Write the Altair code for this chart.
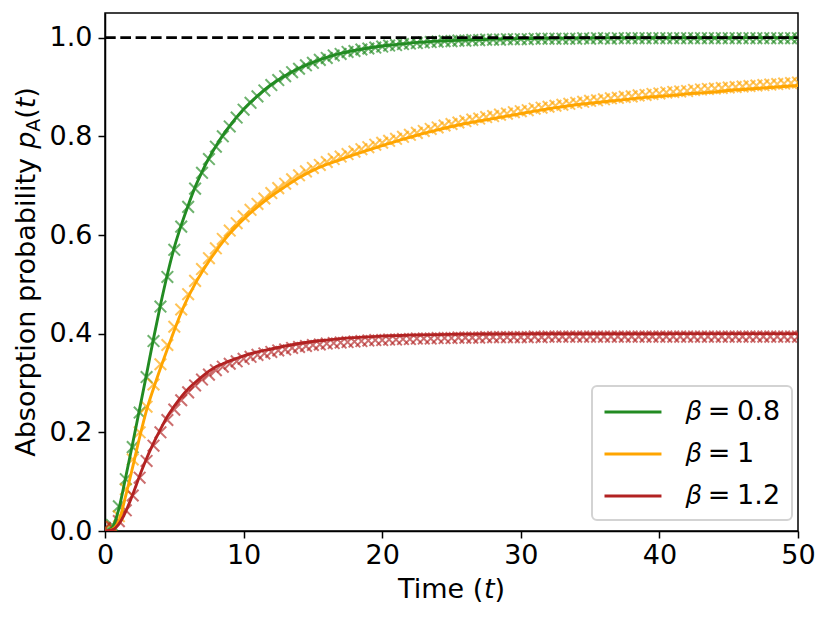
import altair as alt
import pandas as pd

# ---------------- data ----------------
T_LINE = [i / 2 for i in range(21)] + list(range(11, 51))

G_LINE = [0.0, 0.006, 0.045, 0.11, 0.178, 0.248, 0.318, 0.39, 0.458, 0.52, 0.575,
          0.62, 0.66, 0.697, 0.728, 0.756, 0.78, 0.802, 0.821, 0.839, 0.855,
          0.882, 0.905, 0.923, 0.938, 0.950, 0.960, 0.968, 0.974, 0.979, 0.983,
          0.986, 0.989, 0.991, 0.993, 0.994, 0.995, 0.996, 0.997, 0.9975, 0.998,
          0.9984, 0.9987, 0.999, 0.9992, 0.9993, 0.9995, 0.9996, 0.9997, 0.9997, 0.9998,
          0.9998, 0.9999, 0.9999, 0.9999, 0.9999, 1.0, 1.0, 1.0, 1.0, 1.0]

O_LINE = [0.0, 0.003, 0.02, 0.072, 0.13, 0.19, 0.245, 0.289, 0.33, 0.369, 0.407,
          0.443, 0.474, 0.501, 0.525, 0.547, 0.567, 0.586, 0.603, 0.618, 0.632,
          0.657, 0.679, 0.698, 0.716, 0.731, 0.743, 0.753, 0.763, 0.772, 0.781,
          0.790, 0.798, 0.806, 0.813, 0.820, 0.826, 0.831, 0.836, 0.841, 0.846,
          0.851, 0.856, 0.860, 0.864, 0.867, 0.870, 0.873, 0.876, 0.879, 0.881,
          0.883, 0.886, 0.888, 0.890, 0.893, 0.895, 0.897, 0.899, 0.901, 0.903]

R_LINE = [0.0, 0.002, 0.014, 0.04, 0.074, 0.112, 0.147, 0.178, 0.206, 0.232, 0.253,
          0.272, 0.288, 0.301, 0.313, 0.324, 0.333, 0.339, 0.345, 0.350, 0.355,
          0.363, 0.369, 0.375, 0.380, 0.384, 0.387, 0.390, 0.392, 0.3935, 0.395,
          0.396, 0.397, 0.3975, 0.398, 0.3985, 0.399, 0.3992, 0.3994, 0.3995, 0.3996,
          0.3997, 0.3997, 0.3998, 0.3998, 0.3998, 0.3999, 0.3999, 0.3999, 0.3999, 0.3999,
          0.4, 0.4, 0.4, 0.4, 0.4, 0.4, 0.4, 0.4, 0.4, 0.4]

T_MARK = [i / 2 for i in range(101)]

G_MARK = [0.004, 0.012, 0.05, 0.105, 0.17, 0.24, 0.312, 0.385, 0.455, 0.515,
          0.57, 0.617, 0.657, 0.694, 0.726, 0.754, 0.779, 0.8, 0.82, 0.838,
          0.854, 0.868, 0.881, 0.893, 0.904, 0.914, 0.922, 0.93, 0.937, 0.944,
          0.949, 0.955, 0.959, 0.964, 0.967, 0.971, 0.973, 0.976, 0.978, 0.98,
          0.982, 0.984, 0.985, 0.987, 0.988, 0.989, 0.99, 0.991, 0.992, 0.993,
          0.993, 0.994, 0.994, 0.995, 0.995, 0.996, 0.996, 0.996, 0.997, 0.997,
          0.997, 0.997, 0.998, 0.998, 0.998, 0.998, 0.998, 0.998, 0.998, 0.999,
          0.998, 0.999, 0.999, 0.998, 0.999, 0.999, 0.999, 0.999, 0.999, 0.999,
          0.999, 0.999, 0.999, 0.999, 0.999, 0.999, 0.999, 0.999, 0.999, 0.999,
          0.999, 0.999, 0.999, 0.999, 0.999, 0.999, 0.999, 0.999, 0.999, 0.999,
          0.999]

O_MARK = [0.004, 0.008, 0.03, 0.085, 0.145, 0.2, 0.252, 0.297, 0.338, 0.377,
          0.414, 0.449, 0.48, 0.507, 0.531, 0.553, 0.573, 0.592, 0.609, 0.624,
          0.638, 0.651, 0.663, 0.674, 0.685, 0.695, 0.704, 0.713, 0.721, 0.729,
          0.736, 0.742, 0.748, 0.754, 0.759, 0.764, 0.769, 0.774, 0.778, 0.783,
          0.787, 0.791, 0.795, 0.799, 0.803, 0.807, 0.811, 0.815, 0.818, 0.822,
          0.825, 0.828, 0.831, 0.834, 0.836, 0.839, 0.841, 0.844, 0.846, 0.849,
          0.851, 0.853, 0.856, 0.858, 0.86, 0.862, 0.864, 0.866, 0.868, 0.87,
          0.872, 0.873, 0.875, 0.877, 0.878, 0.88, 0.881, 0.883, 0.884, 0.886,
          0.887, 0.889, 0.89, 0.891, 0.892, 0.894, 0.895, 0.896, 0.897, 0.898,
          0.899, 0.9, 0.901, 0.902, 0.903, 0.904, 0.905, 0.906, 0.907, 0.908,
          0.909]

R_MARK = [0.006, 0.008, 0.02, 0.042, 0.072, 0.108, 0.142, 0.173, 0.2, 0.225,
          0.246, 0.265, 0.281, 0.295, 0.307, 0.317, 0.326, 0.333, 0.339, 0.344,
          0.349, 0.353, 0.357, 0.36, 0.363, 0.366, 0.368, 0.371, 0.373, 0.375,
          0.377, 0.378, 0.38, 0.381, 0.382, 0.383, 0.384, 0.385, 0.386, 0.387,
          0.387, 0.388, 0.388, 0.389, 0.389, 0.39, 0.39, 0.39, 0.391, 0.391,
          0.391, 0.392, 0.392, 0.392, 0.392, 0.393, 0.393, 0.393, 0.393, 0.393,
          0.393, 0.393, 0.394, 0.393, 0.394, 0.394, 0.394, 0.394, 0.394, 0.394,
          0.394, 0.394, 0.394, 0.394, 0.394, 0.394, 0.394, 0.394, 0.394, 0.394,
          0.394, 0.394, 0.394, 0.394, 0.394, 0.394, 0.394, 0.394, 0.394, 0.394,
          0.394, 0.394, 0.394, 0.394, 0.394, 0.394, 0.394, 0.394, 0.394, 0.394,
          0.394]

SERIES = ["𝛽\u2005=\u20050.8", "𝛽\u2005=\u20051", "𝛽\u2005=\u20051.2"]
COLORS = ["#228B22", "#FFA500", "#B22222"]

X_TICKS = [0, 10, 20, 30, 40, 50]
Y_TICKS = [0.0, 0.2, 0.4, 0.6, 0.8, 1.0]
REF_T = [0, 50]
REF_P = [1.0, 1.0]

# ---------------- tables ----------------
lines_df = pd.concat([
    pd.DataFrame({"t": T_LINE, "p": v, "series": s})
    for v, s in zip([G_LINE, O_LINE, R_LINE], SERIES)
])
marks_df = pd.concat([
    pd.DataFrame({"t": T_MARK, "p": v, "series": s})
    for v, s in zip([G_MARK, O_MARK, R_MARK], SERIES)
])
ref_df = pd.DataFrame({"t": REF_T, "p": REF_P})

FONT = "DejaVu Sans"
FS = 27

x_enc = alt.X("t:Q", scale=alt.Scale(domain=[0, 50], nice=False),
              axis=alt.Axis(values=X_TICKS, format="d", title=None,
                            labelFlush=False, labelOverlap=False))
y_enc = alt.Y("p:Q", scale=alt.Scale(domain=[0, 1.05], nice=False),
              axis=alt.Axis(values=Y_TICKS, format=".1f", title=None,
                            labelFlush=False, labelOverlap=False))
cscale = alt.Scale(domain=SERIES, range=COLORS)

markers = alt.Chart(marks_df).mark_point(
    shape="M-1,-1L1,1M1,-1L-1,1", filled=False, strokeWidth=2,
    size=135, opacity=0.65, clip=True
).encode(x=x_enc, y=y_enc,
         color=alt.Color("series:N", scale=cscale, legend=None))

lines = alt.Chart(lines_df).mark_line(
    strokeWidth=2.9, interpolate="monotone", clip=True
).encode(
    x=x_enc, y=y_enc,
    color=alt.Color("series:N", scale=cscale, sort=SERIES,
                    legend=alt.Legend(
                        title=None, orient="none", legendX=487, legendY=373,
                        symbolType="M-1,0H3.22", symbolSize=729,
                        symbolStrokeWidth=3, labelFontSize=FS, labelFont=FONT,
                        labelColor="black", labelOffset=53, rowPadding=14,
                        padding=11, fillColor="white", strokeColor="#d3d3d3",
                        cornerRadius=5)),
    detail="series:N",
)

ref = alt.Chart(ref_df).mark_line(
    color="black", strokeWidth=2.9, strokeDash=[10.7, 4.6], clip=True
).encode(x="t:Q", y="p:Q")


def txt(s, x, y, size=FS, style="normal", angle=0):
    return alt.Chart(pd.DataFrame({"s": [s]})).mark_text(
        align="left", baseline="alphabetic", font=FONT, fontSize=size,
        fontStyle=style, angle=angle, color="black"
    ).encode(x=alt.value(x), y=alt.value(y), text="s:N")


# x title: "Time (t)"
xt = [txt("Time (", 293.0, 585), txt("t", 379.0, 585, style="italic"),
      txt(")", 389.6, 585)]
# y title: "Absorption probability p_A(t)"
YX = -70
yt = [txt("Absorption probability", YX, 443.8, angle=270),
      txt("p", YX, 135.8, style="italic", angle=270),
      txt("A", YX + 5, 118.7, size=19, angle=270),
      txt("(", YX, 105.8, angle=270),
      txt("t", YX, 95.3, style="italic", angle=270),
      txt(")", YX, 84.7, angle=270)]

chart = alt.layer(markers, lines, ref, *xt, *yt).resolve_scale(
    color="independent"
).properties(
    width=693, height=518,
    padding={"left": 97, "top": 5, "right": 22, "bottom": 80},
    autosize=alt.AutoSizeParams(type="none"),
).configure_view(
    stroke="black", strokeWidth=1.5
).configure_axis(
    domainColor="black", domainWidth=1.5, tickColor="black", tickWidth=1.5,
    tickSize=7, labelFont=FONT, labelFontSize=FS, labelColor="black", grid=False
).configure_axisX(labelPadding=4).configure_axisY(labelPadding=6
).configure_legend(strokeWidth=2)

chart.save("out.html", embed_options={"renderer": "svg", "actions": False})
